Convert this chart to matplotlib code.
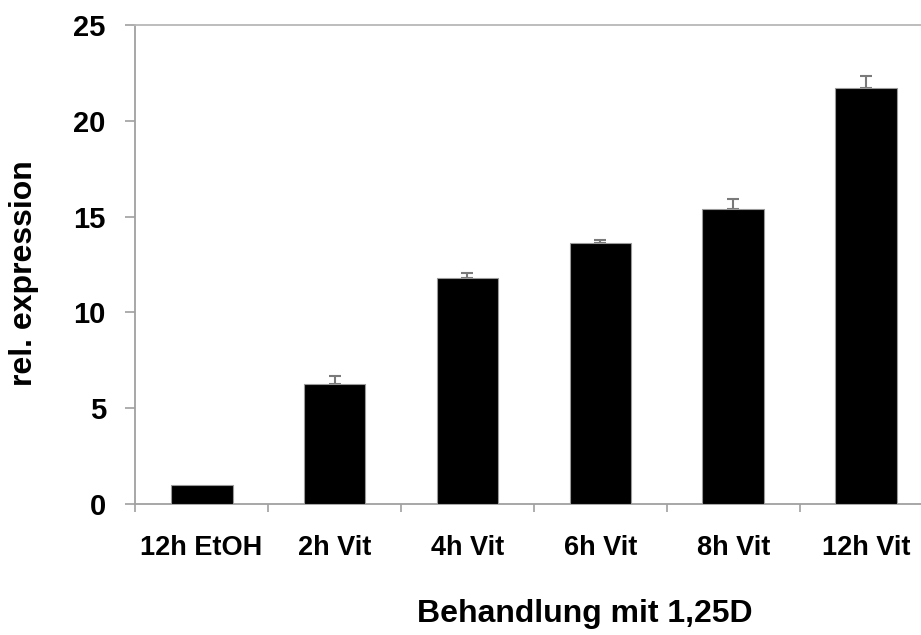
import matplotlib
matplotlib.use('Agg')
from matplotlib import pyplot as plt
import numpy as np

plt.rcParams['font.family'] = ['Liberation Sans', 'DejaVu Sans']
plt.rcParams['font.weight'] = 'bold'

labels = ['12h EtOH', '2h Vit', '4h Vit', '6h Vit', '8h Vit', '12h Vit']
expr = [1.0, 6.26, 11.81, 13.61, 15.38, 21.73]
err = [0.0, 0.44, 0.25, 0.17, 0.55, 0.61]

fig = plt.figure(figsize=(9.21, 6.35), dpi=100)
ax = fig.add_axes([0.1466, 0.2063, 0.8664, 0.7543])

x = np.arange(len(labels))
ax.bar(x, expr, width=0.466, color='black', edgecolor='#9a9a9a', linewidth=0.8, zorder=3)

# upper error bars only, control (EtOH) has none
e = np.array(err)
m = e > 0
ax.errorbar(x[m], np.array(expr)[m], yerr=[np.zeros(m.sum()), e[m]], fmt='none',
            ecolor='#7a7a7a', elinewidth=1.5, capsize=4, capthick=1.5, zorder=2)

ax.set_xlim(-0.5, 5.5)
ax.set_ylim(0, 25)
ax.set_yticks([0, 5, 10, 15, 20, 25])

# category labels in the middle, tick marks between the categories
ax.set_xticks(x)
ax.set_xticklabels(labels, fontsize=19.5, fontweight='bold')
ax.set_xticks(np.arange(-0.5, 6, 1), minor=True)
ax.tick_params(axis='x', which='major', length=0, pad=22)
ax.tick_params(axis='x', which='minor', length=6, width=1.2, color='#a0a0a0')
ax.tick_params(axis='y', length=7, width=1.2, color='#a0a0a0', labelsize=21, pad=14)
for t in ax.get_yticklabels():
    t.set_fontweight('bold')

for s in ['left', 'bottom']:
    ax.spines[s].set_color('#a0a0a0')
    ax.spines[s].set_linewidth(1.3)
ax.spines['right'].set_visible(False)
ax.spines['top'].set_color('#b8b8b8')
ax.spines['top'].set_linewidth(1.3)

fig.text(0.026, 0.57, 'rel. expression', rotation=90, ha='center', va='center',
         fontsize=23, fontweight='bold')
fig.text(0.635, 0.033, 'Behandlung mit 1,25D', ha='center', va='center',
         fontsize=23, fontweight='bold')

fig.savefig('out.png', dpi=100)
